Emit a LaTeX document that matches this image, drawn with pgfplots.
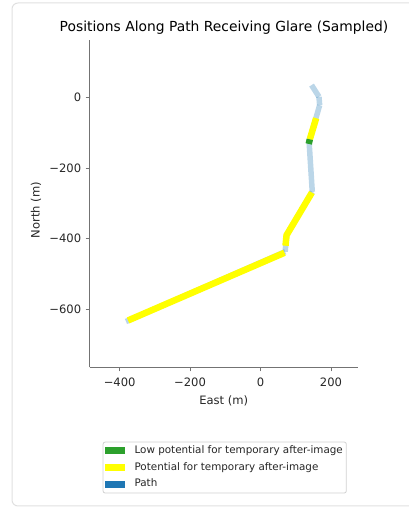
\documentclass[border=0pt]{standalone}
\usepackage{fontspec}
\setmainfont{DejaVu Sans}
\usepackage{pgfplots}
\pgfplotsset{compat=1.18}
\definecolor{tabblue}{HTML}{1F77B4}
\definecolor{tabgreen}{HTML}{2CA02C}
\definecolor{glareyellow}{HTML}{FFFF00}
\definecolor{spine}{gray}{0.45}
\definecolor{legframe}{gray}{0.82}
\definecolor{outerframe}{gray}{0.88}
\begin{document}
\begin{tikzpicture}
\useasboundingbox (0bp,0bp) rectangle (409bp,508bp);
\draw[rounded corners=6bp, draw=outerframe, line width=1bp] (12bp,2bp) rectangle (430bp,505bp);
\begin{axis}[
  at={(89.7bp,140.7bp)}, anchor=south west,
  scale only axis, width=268bp, height=327.3bp,
  xmin=-485, xmax=276, ymin=-765, ymax=164,
  axis x line*=bottom, axis y line*=left,
  axis line style={draw=spine, line width=0.8bp, -},
  xtick={-400,-200,0,200}, xticklabels={−400,−200,0,200},
  ytick={-600,-400,-200,0}, yticklabels={−600,−400,−200,0},
  tick align=outside, major tick length=4bp,
  tick style={draw=spine, line width=0.8bp},
  ticklabel style={font=\fontsize{11.6}{13}\selectfont, text=black!85},
  xticklabel style={yshift=-3.5bp},
  yticklabel style={xshift=-1bp},
  legend style={at={(0.0485,-0.2273)}, anchor=north west, draw=legframe, line width=0.8bp, rounded corners=2bp,
    font=\fontsize{10.4}{12}\selectfont, row sep=2.2bp, inner sep=1.5bp, text=black!85,
    nodes={inner sep=2bp, text height=8bp, text depth=2.5bp}},
  legend cell align=left,
  legend image code/.code={\fill[#1, sharp corners] (0bp,-3.4bp) rectangle (20bp,3.4bp); \path (28bp,0bp);},
]
\addlegendimage{fill=tabgreen, draw=none}
\addlegendentry{Low potential for temporary after-image}
\addlegendimage{fill=glareyellow, draw=none}
\addlegendentry{Potential for temporary after-image}
\addlegendimage{fill=tabblue, draw=none}
\addlegendentry{Path}
% path segments (semi-transparent)
\addplot[forget plot, tabblue, opacity=0.3, line width=5.5bp] coordinates {(145,36) (166,3)};
\addplot[forget plot, tabblue, opacity=0.3, line width=5.5bp] coordinates {(166,3) (168,-21)};
\addplot[forget plot, tabblue, opacity=0.3, line width=5.5bp] coordinates {(168,-21) (138,-125)};
\addplot[forget plot, tabblue, opacity=0.3, line width=5.5bp] coordinates {(138,-125) (147,-267)};
\addplot[forget plot, tabblue, opacity=0.3, line width=5.5bp] coordinates {(147,-267) (74,-390)};
\addplot[forget plot, tabblue, opacity=0.3, line width=5.5bp] coordinates {(74,-390) (70,-437)};
\addplot[forget plot, tabblue, opacity=0.3, line width=5.5bp] coordinates {(70,-437) (-382,-635)};
% glare segments
\addplot[forget plot, glareyellow, line width=6.5bp] coordinates {(158,-58) (140,-118)};
\addplot[forget plot, tabgreen, line width=6.5bp] coordinates {(140,-118) (137,-131)};
\addplot[forget plot, glareyellow, line width=6.5bp] coordinates {(146,-269) (74,-390) (71,-420)};
\addplot[forget plot, glareyellow, line width=6.5bp] coordinates {(68,-440) (-376,-632)};
\end{axis}
\node[anchor=base, font=\fontsize{13.9}{16}\selectfont] at (224bp,476.5bp) {Positions Along Path Receiving Glare (Sampled)};
\node[anchor=base, font=\fontsize{11.6}{13}\selectfont, text=black!85] at (223.7bp,103bp) {East (m)};
\node[anchor=base, rotate=90, font=\fontsize{11.6}{13}\selectfont, text=black!85] at (39.5bp,298bp) {North (m)};
\end{tikzpicture}
\end{document}
